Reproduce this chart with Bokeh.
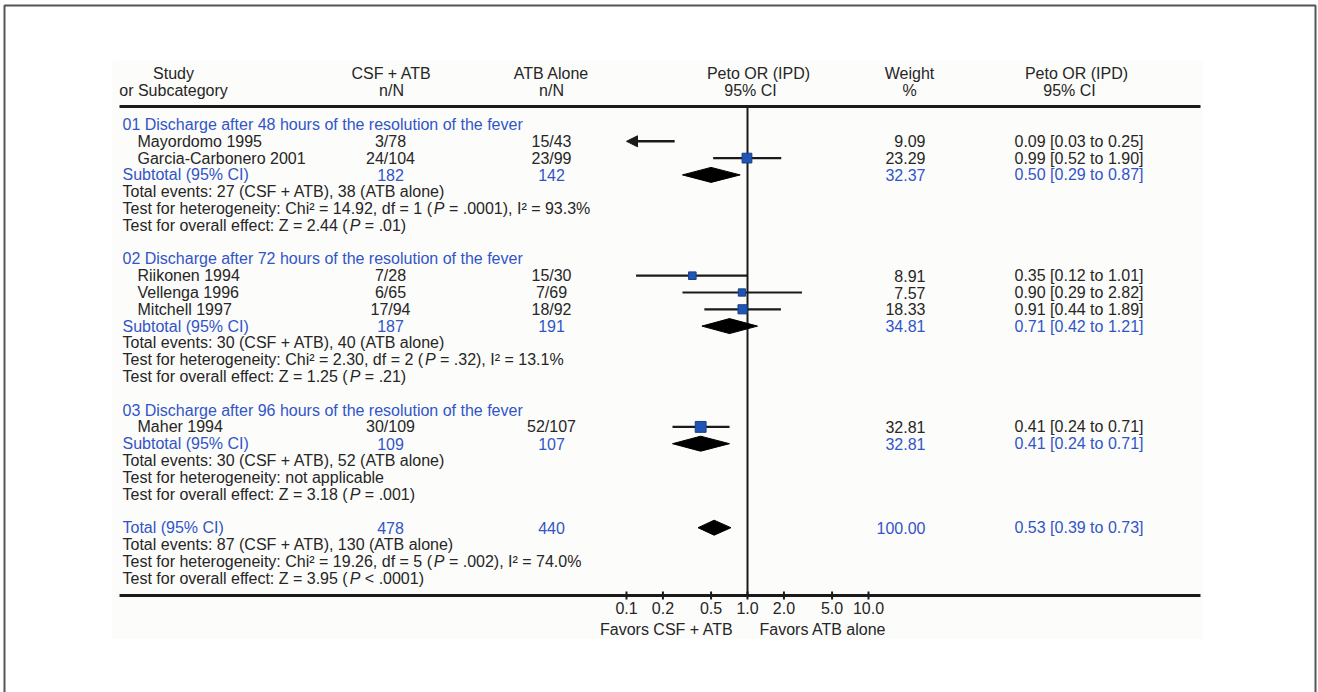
from bokeh.plotting import figure
from bokeh.models import Range1d, LogScale, ColumnDataSource, Arrow, NormalHead
from bokeh.core.properties import value
from bokeh.embed import file_html
from bokeh.resources import INLINE

# ------------------------------------------------------------------ data
GROUP_TITLES = [
    "01 Discharge after 48 hours of the resolution of the fever",
    "02 Discharge after 72 hours of the resolution of the fever",
    "03 Discharge after 96 hours of the resolution of the fever",
]
STUDIES = ["Mayordomo 1995", "Garcia-Carbonero 2001", "Riikonen 1994",
           "Vellenga 1996", "Mitchell 1997", "Maher 1994"]
STUDY_GROUP = [0, 0, 1, 1, 1, 2]
CSF_EV = [3, 24, 7, 6, 17, 30]
CSF_N = [78, 104, 28, 65, 94, 109]
ATB_EV = [15, 23, 15, 7, 18, 52]
ATB_N = [43, 99, 30, 69, 92, 107]
WEIGHT = [9.09, 23.29, 8.91, 7.57, 18.33, 32.81]
OR = [0.09, 0.99, 0.35, 0.90, 0.91, 0.41]
OR_LO = [0.03, 0.52, 0.12, 0.29, 0.44, 0.24]
OR_HI = [0.25, 1.90, 1.01, 2.82, 1.89, 0.71]

# subgroups (0,1,2) and overall total (3)
POOL_N_CSF = [182, 187, 109, 478]
POOL_N_ATB = [142, 191, 107, 440]
POOL_EV_CSF = [27, 30, 30, 87]
POOL_EV_ATB = [38, 40, 52, 130]
POOL_W = [32.37, 34.81, 32.81, 100.00]
POOL_OR = [0.50, 0.71, 0.41, 0.53]
POOL_LO = [0.29, 0.42, 0.24, 0.39]
POOL_HI = [0.87, 1.21, 0.71, 0.73]
HET_CHI2 = [14.92, 2.30, None, 19.26]
HET_DF = [1, 2, None, 5]
HET_P = [".0001", ".32", None, ".002"]
HET_I2 = [93.3, 13.1, None, 74.0]
EFF_Z = [2.44, 1.25, 3.18, 3.95]
EFF_P = ["= .01", "= .21", "= .001", "< .0001"]

TICKS = [0.1, 0.2, 0.5, 1.0, 2.0, 5.0, 10.0]
TICK_LABELS = ["0.1", "0.2", "0.5", "1.0", "2.0", "5.0", "10.0"]
NULL_OR = 1.0

# ------------------------------------------------------------------ style / layout
FONT = "Liberation Sans"
FS = 16
DARK = "#262626"
BLUE = "#3155c8"
LINE = "#1a1a1a"
SQ_FILL = "#1f55b5"
SQ_LINE = "#1a3f85"

W, H = 1318, 692
PX_DEC = 121.0          # pixels per decade of the OR axis
PX_AT_01 = 626.0        # pixel position of OR = 0.1
Y0, DY = 124.0, 16.8    # first row centre and row pitch
HALF_D = 7.5            # diamond half height

X_TITLE, X_STUDY = 122, 137
X_CSF, X_ATB = 390, 551
X_W, X_CI = 925, 1014

AW = {' ': 278, '!': 278, '(': 333, ')': 333, ',': 278, '.': 278, ':': 278,
      '=': 584, '%': 889, '+': 584, '<': 584, '\u00b2': 333, '/': 278, '-': 333,
      '[': 278, ']': 278,
      'A': 667, 'B': 667, 'C': 722, 'D': 722, 'E': 667, 'F': 611, 'G': 778, 'H': 722,
      'I': 278, 'J': 500, 'K': 667, 'L': 556, 'M': 833, 'N': 722, 'O': 778, 'P': 667,
      'Q': 778, 'R': 722, 'S': 667, 'T': 611, 'U': 722, 'V': 667, 'W': 944, 'X': 667,
      'Y': 667, 'Z': 611,
      'a': 556, 'b': 556, 'c': 500, 'd': 556, 'e': 556, 'f': 278, 'g': 556, 'h': 556,
      'i': 222, 'j': 222, 'k': 500, 'l': 222, 'm': 833, 'n': 556, 'o': 556, 'p': 556,
      'q': 556, 'r': 333, 's': 500, 't': 278, 'u': 556, 'v': 500, 'w': 722, 'x': 500,
      'y': 500, 'z': 500}


def tw(s):
    return sum(AW.get(c, 556) for c in s) * FS / 1000.0


def row_y(r):
    return Y0 + r * DY


T = dict(x=[], y=[], text=[], color=[], align=[], style=[])


def add(x, y, s, color=DARK, align="left", style="normal"):
    T["x"].append(x); T["y"].append(y); T["text"].append(s)
    T["color"].append(color); T["align"].append(align); T["style"].append(style)


def add_rich(x, y, s, color=DARK):
    cur = x
    for i, part in enumerate(s.split("*")):
        style = "italic" if i % 2 else "normal"
        lead = len(part) - len(part.lstrip(" "))
        cur += lead * AW[" "] * FS / 1000.0
        body = part.strip(" ")
        if body:
            add(cur, y, body, color, "left", style)
        cur += tw(part.lstrip(" "))


p = figure(width=W, height=H, x_range=Range1d(0, W), y_range=Range1d(H, 0),
           x_axis_type=None, y_axis_type=None, toolbar_location=None,
           output_backend="svg", min_border=0, outline_line_color=None,
           background_fill_color="white", border_fill_color="white")
lo_log = -1 - PX_AT_01 / PX_DEC
hi_log = -1 + (W - PX_AT_01) / PX_DEC
p.extra_x_ranges = {"or": Range1d(10 ** lo_log, 10 ** hi_log)}
p.extra_x_scales = {"or": LogScale()}

# page frame and panel background
p.quad(left=[112], right=[1202], top=[60], bottom=[638], fill_color="#fcfcfa", line_color=None)
p.quad(left=[4], right=[1315], top=[5], bottom=[760], fill_color=None,
       line_color="#555555", line_width=2)

# rules
p.segment(x0=[119, 119], x1=[1200, 1200], y0=[106, 595], y1=[106, 595],
          line_color=LINE, line_width=3)
p.segment(x0=[NULL_OR], x1=[NULL_OR], y0=[106], y1=[595], x_range_name="or",
          line_color=LINE, line_width=2)
p.segment(x0=TICKS, x1=TICKS, y0=[591] * len(TICKS), y1=[599] * len(TICKS),
          x_range_name="or", line_color=LINE, line_width=2)
p.text(x=TICKS, y=[607] * len(TICKS), text=TICK_LABELS, x_range_name="or",
       text_font=value(FONT), text_font_size=value("16px"), text_color=DARK,
       text_align="center", text_baseline="middle")
add(733, 629, "Favors CSF + ATB", align="right")
add(759, 629, "Favors ATB alone")

# headers
for x, l1, l2 in [(173, "Study", "or Subcategory"), (391, "CSF + ATB", "n/N"),
                  (551, "ATB Alone", "n/N"), (758, "Peto OR (IPD)", None),
                  (909, "Weight", "%"), (1076, "Peto OR (IPD)", None)]:
    add(x, 73, l1, align="center")
    if l2:
        add(x, 90, l2, align="center")
add(750, 90, "95% CI", align="center")
add(1069, 90, "95% CI", align="center")

# rows
ci_x0, ci_x1, ci_y = [], [], []
sq_x, sq_y, sq_s = [], [], []
dx, dy = [], []
AX_MIN = TICKS[0]
r = 0
for g in range(4):
    if g < 3:
        add(X_TITLE, row_y(r), GROUP_TITLES[g], BLUE)
        r += 1
        for i, name in enumerate(STUDIES):
            if STUDY_GROUP[i] != g:
                continue
            y = row_y(r)
            add(X_STUDY, y, name)
            add(X_CSF, y, f"{CSF_EV[i]}/{CSF_N[i]}", align="center")
            add(X_ATB, y, f"{ATB_EV[i]}/{ATB_N[i]}", align="center")
            add(X_W, y, f"{WEIGHT[i]:.2f}", align="right")
            add(X_CI, y, f"{OR[i]:.2f} [{OR_LO[i]:.2f} to {OR_HI[i]:.2f}]")
            if OR_LO[i] < AX_MIN:
                p.add_layout(Arrow(end=NormalHead(size=11, fill_color=LINE, line_color=LINE),
                                   x_start=OR_HI[i], x_end=AX_MIN, y_start=y, y_end=y,
                                   line_color=LINE, line_width=2.5, x_range_name="or"))
            else:
                ci_x0.append(OR_LO[i]); ci_x1.append(OR_HI[i]); ci_y.append(y)
            if OR[i] >= AX_MIN:
                sq_x.append(OR[i]); sq_y.append(y); sq_s.append(4 + 1.2 * WEIGHT[i] ** 0.5)
            r += 1
        label = "Subtotal (95% CI)"
    else:
        label = "Total (95% CI)"
    y = row_y(r)
    add(X_TITLE, y, label, BLUE)
    add(X_CSF, y, f"{POOL_N_CSF[g]}", BLUE, "center")
    add(X_ATB, y, f"{POOL_N_ATB[g]}", BLUE, "center")
    add(X_W, y, f"{POOL_W[g]:.2f}", BLUE, "right")
    add(X_CI, y, f"{POOL_OR[g]:.2f} [{POOL_LO[g]:.2f} to {POOL_HI[g]:.2f}]", BLUE)
    dx.append([POOL_LO[g], POOL_OR[g], POOL_HI[g], POOL_OR[g]])
    dy.append([y, y - HALF_D, y, y + HALF_D])
    r += 1
    add(X_TITLE, row_y(r), f"Total events: {POOL_EV_CSF[g]} (CSF + ATB), {POOL_EV_ATB[g]} (ATB alone)")
    r += 1
    if HET_CHI2[g] is None:
        het = "Test for heterogeneity: not applicable"
    else:
        het = (f"Test for heterogeneity: Chi\u00b2 = {HET_CHI2[g]:.2f}, df = {HET_DF[g]} "
               f"(*P* = {HET_P[g]}), I\u00b2 = {HET_I2[g]:.1f}%")
    add_rich(X_TITLE, row_y(r), het)
    r += 1
    add_rich(X_TITLE, row_y(r), f"Test for overall effect: Z = {EFF_Z[g]:.2f} (*P* {EFF_P[g]})")
    r += 2

p.segment(x0=ci_x0, x1=ci_x1, y0=ci_y, y1=ci_y, x_range_name="or",
          line_color=LINE, line_width=2.2)
p.scatter(x=sq_x, y=sq_y, size=sq_s, marker="square", x_range_name="or",
          fill_color=SQ_FILL, line_color=SQ_LINE, line_width=1)
p.patches(xs=dx, ys=dy, x_range_name="or", fill_color="black", line_color="black")

src = ColumnDataSource(T)
p.text(x="x", y="y", text="text", source=src, text_color="color", text_align="align",
       text_font_style="style", text_font=value(FONT), text_font_size=value("16px"),
       text_baseline="middle")

open("out.html", "w").write(file_html(p, INLINE))
